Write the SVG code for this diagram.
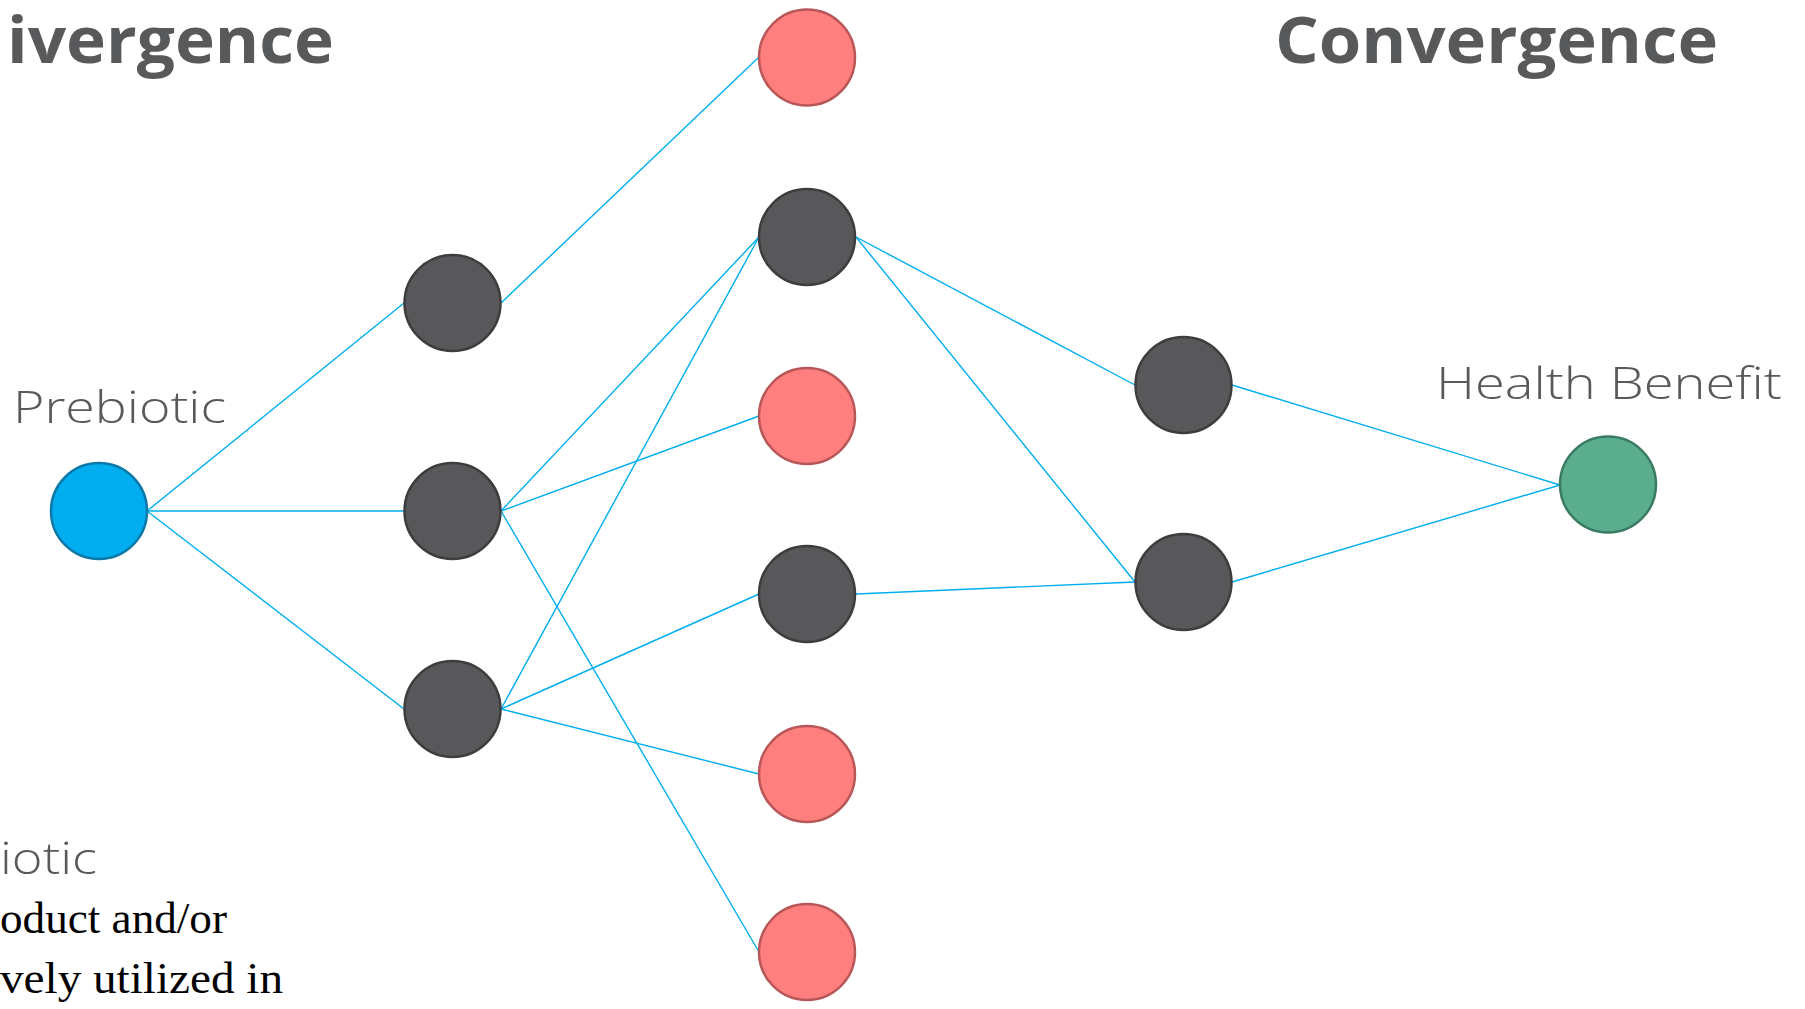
<svg xmlns="http://www.w3.org/2000/svg" width="1805" height="1009" viewBox="0 0 1805 1009">
<style>
.e{stroke:#00aeef;stroke-width:1.4;fill:none}
.dk{fill:#58585a;stroke:#3d3d3f;stroke-width:2.5}
.rd{fill:#ff7f7f;stroke:#b85658;stroke-width:2.5}
.bl{fill:#00aeef;stroke:#0a79aa;stroke-width:2.5}
.gn{fill:#5aae8f;stroke:#3a7c62;stroke-width:2.5}
.h{font-family:"Open Sans","DejaVu Sans",sans-serif;font-weight:700;fill:#58595b;font-size:65px}
.l{font-family:"Open Sans","Noto Sans",sans-serif;font-weight:300;fill:#58595b;font-size:44px}
.s{font-family:"Liberation Serif",serif;fill:#000;font-size:44px}
</style>
<rect width="1805" height="1009" fill="#fff"/>
<g id="connectors">
<line class="e" x1="147" y1="511" x2="404" y2="303"/>
<line class="e" x1="147" y1="511" x2="404" y2="511"/>
<line class="e" x1="147" y1="511" x2="404" y2="709"/>
<line class="e" x1="501" y1="303" x2="759" y2="57"/>
<line class="e" x1="501" y1="511" x2="759" y2="237"/>
<line class="e" x1="501" y1="511" x2="759" y2="416"/>
<line class="e" x1="501" y1="511" x2="759" y2="952"/>
<line class="e" x1="501" y1="709" x2="759" y2="237"/>
<line class="e" x1="501" y1="709" x2="759" y2="594"/>
<line class="e" x1="501" y1="709" x2="759" y2="774"/>
<line class="e" x1="856" y1="237" x2="1135" y2="385"/>
<line class="e" x1="856" y1="237" x2="1135" y2="582"/>
<line class="e" x1="856" y1="594" x2="1135" y2="582"/>
<line class="e" x1="1232" y1="385" x2="1560" y2="485"/>
<line class="e" x1="1232" y1="582" x2="1560" y2="485"/>
</g>
<g id="title-divergence"><text class="h" x="7" y="63" textLength="327" lengthAdjust="spacingAndGlyphs">ivergence</text></g>
<g id="title-convergence"><text class="h" x="1275" y="63" textLength="443" lengthAdjust="spacingAndGlyphs">Convergence</text></g>
<g id="prebiotic"><text class="l" x="13" y="423" textLength="213" lengthAdjust="spacingAndGlyphs">Prebiotic</text><circle class="bl" cx="99" cy="511" r="48"/></g>
<g id="n1a"><circle class="dk" cx="452.5" cy="303" r="48"/></g>
<g id="n1b"><circle class="dk" cx="452.5" cy="511" r="48"/></g>
<g id="n1c"><circle class="dk" cx="452.5" cy="709" r="48"/></g>
<g id="n2a"><circle class="rd" cx="807" cy="57.5" r="48"/></g>
<g id="n2b"><circle class="dk" cx="807" cy="237" r="48"/></g>
<g id="n2c"><circle class="rd" cx="807" cy="416" r="48"/></g>
<g id="n2d"><circle class="dk" cx="807" cy="594" r="48"/></g>
<g id="n2e"><circle class="rd" cx="807" cy="774" r="48"/></g>
<g id="n2f"><circle class="rd" cx="807" cy="952" r="48"/></g>
<g id="n3a"><circle class="dk" cx="1183.5" cy="385" r="48"/></g>
<g id="n3b"><circle class="dk" cx="1183.5" cy="582" r="48"/></g>
<g id="health"><text class="l" x="1436" y="399" textLength="346" lengthAdjust="spacingAndGlyphs">Health Benefit</text><circle class="gn" cx="1608" cy="484.5" r="48"/></g>
<g id="bottom-text">
<text class="l" x="0" y="874" textLength="97" lengthAdjust="spacingAndGlyphs">iotic</text>
<text class="s" x="0" y="933" textLength="227" lengthAdjust="spacingAndGlyphs">oduct and/or</text>
<text class="s" x="0" y="993" textLength="283" lengthAdjust="spacingAndGlyphs">vely utilized in</text>
</g>
</svg>
